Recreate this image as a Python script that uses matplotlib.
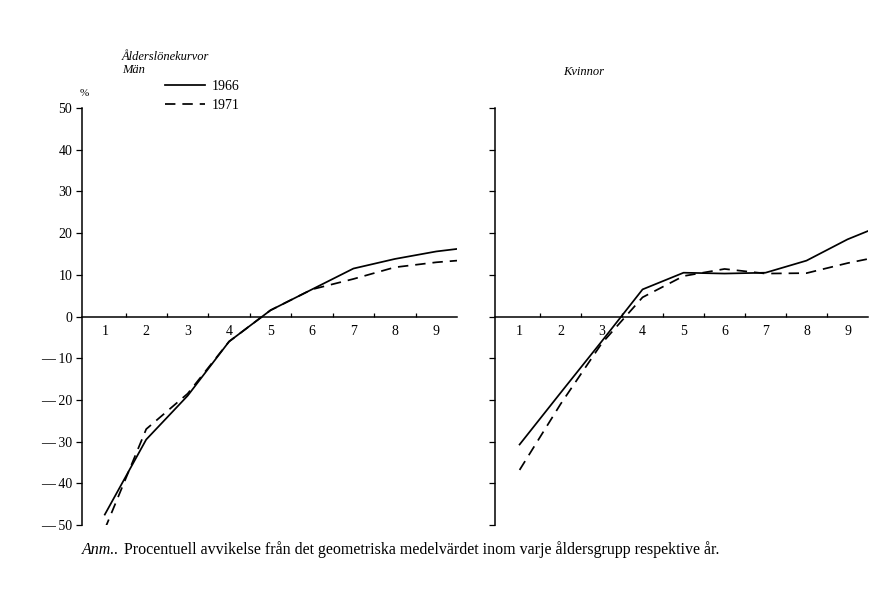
import matplotlib
matplotlib.use('Agg')
import matplotlib.pyplot as plt
from matplotlib.lines import Line2D

plt.rcParams['font.family'] = ['Liberation Serif', 'DejaVu Serif']

# age groups and points of the curves (last point = right end of the axis)
grupper = ['1', '2', '3', '4', '5', '6', '7', '8', '9']
x_pts = [1, 2, 3, 4, 5, 6, 7, 8, 9, 9.5]

man_1966 = [-47.5, -29.5, -19, -6, 1.5, 6.5, 11.5, 13.8, 15.6, 16.2]
man_1971 = [-51, -27, -18.5, -6, 1.5, 6.5, 9.0, 11.8, 13.0, 13.4]
kv_1966 = [-30.7, -18.3, -6, 6.5, 10.5, 10.3, 10.5, 13.4, 18.5, 20.5]
kv_1971 = [-36.8, -21.0, -6.5, 4.6, 9.7, 11.4, 10.3, 10.4, 12.8, 13.8]

yticks = [50, 40, 30, 20, 10, 0, -10, -20, -30, -40, -50]
ytick_labels = ['50', '40', '30', '20', '10', '0', '— 10', '— 20', '— 30', '— 40', '— 50']

fig = plt.figure(figsize=(8.83, 5.92), dpi=100)
ax1 = fig.add_axes([82/883, 1-525/592, 375/883, 417/592])
ax2 = fig.add_axes([495/883, 1-525/592, 373/883, 417/592])

def setup(ax, xmin, labels):
    ax.set_xlim(xmin, 9.5)
    ax.set_ylim(-50, 50)
    for s in ['top', 'right']:
        ax.spines[s].set_visible(False)
    ax.spines['bottom'].set_position(('data', 0))
    ax.spines['left'].set_linewidth(1.1)
    ax.spines['bottom'].set_linewidth(1.1)
    ax.set_xticks([i + 0.5 for i in range(1, 9)])
    ax.set_xticklabels([])
    ax.set_xticks(range(1, 10), minor=True)
    ax.set_xticklabels(grupper, minor=True, fontsize=10)
    ax.tick_params(axis='x', which='major', direction='in', length=3, width=0.9)
    ax.tick_params(axis='x', which='minor', length=0, pad=6)
    ax.set_yticks(yticks)
    if labels:
        ax.set_yticklabels(ytick_labels, fontsize=10)
    else:
        ax.set_yticklabels([])
    ax.tick_params(axis='y', direction='out', length=4, width=0.9, pad=3)

setup(ax1, 0.45, True)
setup(ax2, 0.4, False)

ax1.plot(x_pts, man_1966, color='black', lw=1.25)
ax1.plot(x_pts, man_1971, color='black', lw=1.25, dashes=(6, 4))
ax2.plot(x_pts, kv_1966, color='black', lw=1.25)
ax2.plot(x_pts, kv_1971, color='black', lw=1.25, dashes=(6, 4))

fig.text(122/883, 1-57/592, 'Ålderslönekurvor', style='italic', fontsize=9, va='center')
fig.text(122/883, 1-70/592, 'Män', style='italic', fontsize=9, va='center')
fig.text(563/883, 1-72/592, 'Kvinnor', style='italic', fontsize=9, va='center')
fig.text(80/883, 1-93/592, '%', fontsize=8, va='center')

handles = [Line2D([], [], color='black', lw=1.25),
           Line2D([], [], color='black', lw=1.25, dashes=(6, 4))]
fig.legend(handles, ['1966', '1971'], loc='upper left',
           bbox_to_anchor=(165/883, 1-80/592), frameon=False, fontsize=10,
           handlelength=2.9, handletextpad=0.5, labelspacing=0.4,
           borderpad=0, borderaxespad=0)

fig.text(82/883, 1-550/592, 'Anm..', style='italic', fontsize=11.5, va='center')
fig.text(124/883, 1-550/592,
         'Procentuell avvikelse från det geometriska medelvärdet inom varje åldersgrupp respektive år.',
         fontsize=11.5, va='center')

fig.savefig('out.png', dpi=100)
